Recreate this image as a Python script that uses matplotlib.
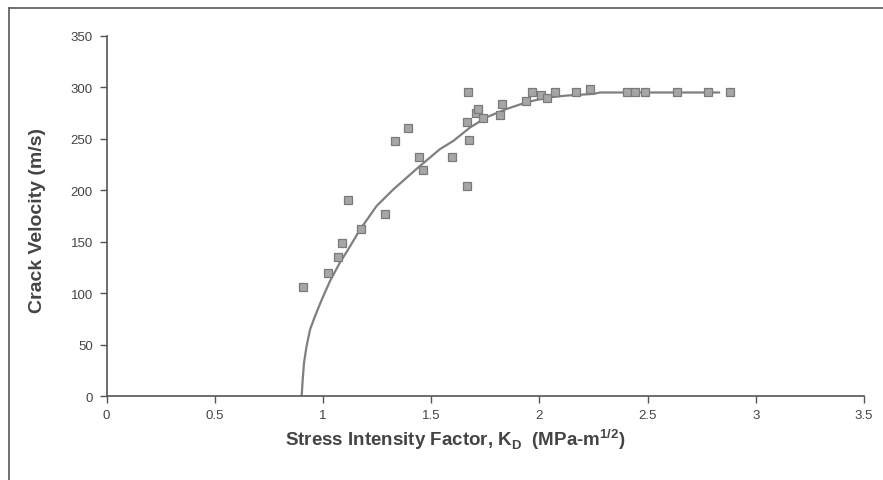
import matplotlib
matplotlib.use("Agg")
import matplotlib.pyplot as plt
from matplotlib.lines import Line2D
from matplotlib import font_manager

# Measured data points.
k_data = [0.906, 1.021, 1.070, 1.087, 1.117, 1.175, 1.286, 1.332, 1.394, 1.443,
          1.460, 1.594, 1.664, 1.664, 1.671, 1.676, 1.705, 1.717, 1.740, 1.817,
          1.825, 1.938, 1.965, 2.007, 2.036, 2.070, 2.169, 2.233, 2.403, 2.441,
          2.487, 2.634, 2.780, 2.880]
v_data = [106.6, 120, 135, 149, 191, 163, 177, 247.6, 261, 232.7,
          219.7, 232, 204, 266, 295.3, 249, 275, 279, 270, 273,
          284, 287, 295, 293, 290, 295, 295, 298, 295, 295,
          295, 295, 295, 295]

# Fitted curve.
k_fit = [0.901, 0.906, 0.912, 0.924, 0.940, 0.963, 0.994, 1.032, 1.078, 1.117,
         1.171, 1.248, 1.325, 1.433, 1.540, 1.602, 1.679, 1.756, 1.848, 1.941,
         2.033, 2.126, 2.249, 2.280, 2.400, 2.600, 2.830]
v_fit = [0, 16.5, 32.7, 49, 65, 78, 94, 112, 130, 143,
         162, 185, 201, 221, 240, 248, 261, 271, 279, 285.5,
         290, 292, 293.6, 295, 295, 295, 295]

x_ticks = [0, 0.5, 1, 1.5, 2, 2.5, 3, 3.5]
x_tick_labels = ["0", "0.5", "1", "1.5", "2", "2.5", "3", "3.5"]
y_ticks = [0, 50, 100, 150, 200, 250, 300, 350]

names = {f.name for f in font_manager.fontManager.ttflist}
narrow = "Liberation Sans Narrow" if "Liberation Sans Narrow" in names else "Liberation Sans"

plt.rcParams["font.family"] = ["Liberation Sans", "DejaVu Sans"]

fig = plt.figure(figsize=(8.83, 4.81), dpi=100)
ax = fig.add_axes([0.1208, 0.1736, 0.8577, 0.7499])

ax.plot(k_fit, v_fit, color="#7f7f7f", linewidth=1.6, zorder=2)
ax.plot(k_data, v_data, linestyle="none", marker="s", markersize=6,
        markerfacecolor="#a6a6a6", markeredgecolor="#7a7a7a",
        markeredgewidth=0.9, zorder=3)

ax.set_xlim(0, 3.5)
ax.set_ylim(0, 350)
ax.set_xticks(x_ticks)
ax.set_xticklabels(x_tick_labels)
ax.set_yticks(y_ticks)

for side in ["top", "right"]:
    ax.spines[side].set_visible(False)
for side in ["left", "bottom"]:
    ax.spines[side].set_color("#555555")
    ax.spines[side].set_linewidth(1.2)

ax.tick_params(axis="both", colors="#555555", labelcolor="#444444",
               labelsize=9.5, length=5, width=1.0, direction="out")
ax.tick_params(axis="x", pad=4)
ax.tick_params(axis="y", pad=5)

ax.set_ylabel("Crack Velocity (m/s)", fontsize=14, fontweight="bold",
              color="#444444", va="center", ha="center")
ax.yaxis.set_label_coords(-0.091, 0.49)
ax.set_xlabel(r"Stress Intensity Factor, K$_{\mathregular{D}}$  (MPa-m$^{\mathregular{1/2}}$)",
              fontsize=13.5, fontweight="bold", color="#444444",
              family=[narrow, "DejaVu Sans"], va="center", ha="center")
ax.xaxis.set_label_coords(0.46, -0.118)

# Outer frame (only left and top edges are visible).
fig.add_artist(Line2D([0.0105, 0.0105], [0.0, 0.981], transform=fig.transFigure,
                      color="#666666", linewidth=1.3))
fig.add_artist(Line2D([0.0105, 1.0], [0.981, 0.981], transform=fig.transFigure,
                      color="#666666", linewidth=1.3))

fig.savefig("out.png", dpi=100)
